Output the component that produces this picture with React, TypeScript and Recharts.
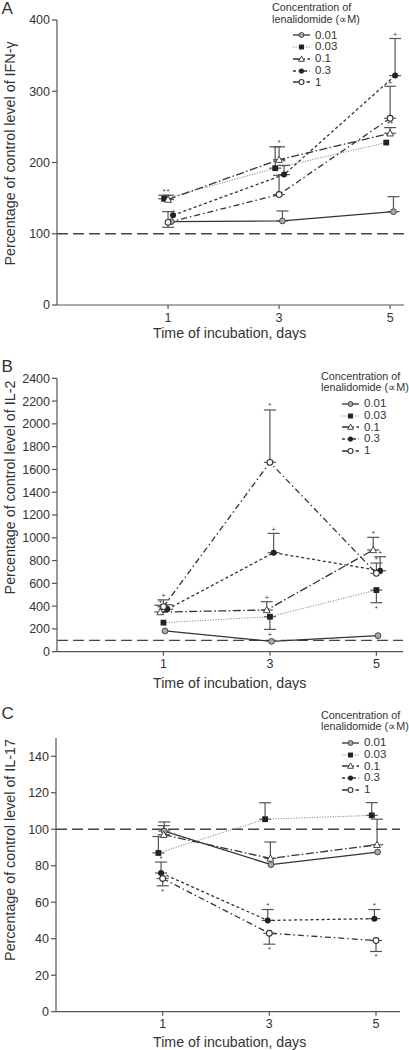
import React from 'react';
import { LineChart, Line, XAxis, YAxis, ReferenceLine, ErrorBar, Legend } from 'recharts';

// ---------- shared ----------
const DAYS = [1, 3, 5];
const X_TICKS = [1, 3, 5];
const CONCENTRATIONS = ['0.01', '0.03', '0.1', '0.3', '1'];

// ---------- Panel A : IFN-γ ----------
const IFN_Y_TICKS = [0, 100, 200, 300, 400];
const IFN_001 = [117, 118, 131];
const IFN_003 = [149, 192, 228];
const IFN_01 = [148, 204, 241];
const IFN_03 = [126, 183, 322];
const IFN_1 = [116, 155, 262];
// [down, up]
const IFN_001_ERR = [[0, 0], [0, 14], [0, 21]];
const IFN_003_ERR = [[0, 5], [0, 30], [0, 0]];
const IFN_01_ERR = [[0, 6], [0, 18], [0, 8]];
const IFN_03_ERR = [[0, 0], [0, 13], [0, 52]];
const IFN_1_ERR = [[7, 15], [0, 27], [0, 45]];
const IFN_001_SIG = ['', '', ''];
const IFN_003_SIG = ['*', '', ''];
const IFN_01_SIG = ['*', '*', '**'];
const IFN_03_SIG = ['+', '*', '+'];
const IFN_1_SIG = ['', '', '+'];

// ---------- Panel B : IL-2 ----------
const IL2_Y_TICKS = [0, 200, 400, 600, 800, 1000, 1200, 1400, 1600, 1800, 2000, 2200, 2400];
const IL2_001 = [182, 91, 141];
const IL2_003 = [255, 307, 541];
const IL2_01 = [348, 366, 893];
const IL2_03 = [372, 869, 711];
const IL2_1 = [395, 1662, 688];
const IL2_001_ERR = [[0, 0], [0, 0], [0, 0]];
const IL2_003_ERR = [[0, 0], [111, 0], [111, 0]];
const IL2_01_ERR = [[0, 60], [0, 73], [0, 111]];
const IL2_03_ERR = [[0, 40], [0, 170], [0, 123]];
const IL2_1_ERR = [[0, 60], [0, 460], [0, 90]];
const IL2_001_SIG = ['', '', ''];
const IL2_003_SIG = ['', '+', '*'];
const IL2_01_SIG = ['+', '+', '*'];
const IL2_03_SIG = ['', '+', '+'];
const IL2_1_SIG = ['+', '*', '*'];

// ---------- Panel C : IL-17 ----------
const IL17_Y_TICKS = [0, 20, 40, 60, 80, 100, 120, 140];
const IL17_001 = [99, 80.6, 87.5];
const IL17_003 = [87, 105.5, 107.6];
const IL17_01 = [97, 84, 91.5];
const IL17_03 = [76, 50, 51];
const IL17_1 = [73, 43, 39];
const IL17_001_ERR = [[0, 5], [0, 0], [0, 0]];
const IL17_003_ERR = [[0, 9], [0, 9], [0, 7]];
const IL17_01_ERR = [[0, 5], [0, 9], [0, 14]];
const IL17_03_ERR = [[0, 6], [0, 6], [0, 5]];
const IL17_1_ERR = [[4, 0], [6, 0], [6, 0]];
const IL17_001_SIG = ['', '', ''];
const IL17_003_SIG = ['', '', ''];
const IL17_01_SIG = ['', '', ''];
const IL17_03_SIG = ['*', '*', '*'];
const IL17_1_SIG = ['*', '*', '*'];

// ---------- styles ----------
const FONT = '"Liberation Sans", Arial, Helvetica, sans-serif';
const TEXT = '#333';
const AXIS = '#555';

type SeriesStyle = { stroke: string; width: number; dash?: string; marker: string };
const STYLES: SeriesStyle[] = [
  { stroke: '#333', width: 1.3, marker: 'circleGray' },
  { stroke: '#888', width: 1, dash: '1.2 1.4', marker: 'square' },
  { stroke: '#333', width: 1.3, dash: '8 2.5 1.5 2.5', marker: 'triangle' },
  { stroke: '#333', width: 1.3, dash: '3 2.5', marker: 'dotBlack' },
  { stroke: '#333', width: 1.3, dash: '6 3 1.5 3', marker: 'circleOpen' },
];

function Marker({ kind, cx, cy, k = 1 }: { kind: string; cx: number; cy: number; k?: number }) {
  if (cx == null || cy == null || isNaN(cx) || isNaN(cy)) return null;
  switch (kind) {
    case 'circleGray':
      return <circle cx={cx} cy={cy} r={2.9 * k} fill="#aaa" stroke="#444" strokeWidth={1} />;
    case 'square':
      return <rect x={cx - 2.9 * k} y={cy - 2.9 * k} width={5.8 * k} height={5.8 * k} fill="#222" />;
    case 'triangle':
      return (
        <path
          d={`M${cx},${cy - 3.6 * k} L${cx + 3.4 * k},${cy + 2.7 * k} L${cx - 3.4 * k},${cy + 2.7 * k} Z`}
          fill="#fff"
          stroke="#444"
          strokeWidth={1}
        />
      );
    case 'dotBlack':
      return <circle cx={cx} cy={cy} r={3.0 * k} fill="#222" />;
    default:
      return <circle cx={cx} cy={cy} r={2.9 * k} fill="#fff" stroke="#333" strokeWidth={1.1} />;
  }
}

type Row = { day: number; v: number; err: number[] | null; sigY: number; sig: string; below: boolean };

function buildRows(values: number[], errs: number[][], sigs: string[], dx: number): Row[] {
  return DAYS.map((d, i) => {
    const [lo, hi] = errs[i];
    const below = lo > 0 && hi === 0;
    return {
      day: d + dx,
      v: values[i],
      err: lo === 0 && hi === 0 ? null : [lo, hi],
      sigY: below ? values[i] - lo : values[i] + hi,
      sig: sigs[i],
      below,
    };
  });
}

const LegendBox = (props: any) => {
  const payload = (props.payload || []).filter((e: any) => e.type !== 'none');
  return (
    <div style={{ fontFamily: FONT, color: TEXT }}>
      <div style={{ fontSize: 10.8, lineHeight: '11.5px', whiteSpace: 'nowrap' }}>
        Concentration of
        <br />
        lenalidomide (∝M)
      </div>
      <div style={{ marginTop: 4.5, marginLeft: 21 }}>
        {payload.map((e: any, i: number) => {
          const idx = CONCENTRATIONS.indexOf(String(e.value));
          const s = STYLES[idx >= 0 ? idx : i];
          return (
            <div key={String(e.value)} style={{ display: 'flex', alignItems: 'center', height: 11.75 }}>
              <svg width={17} height={10} style={{ overflow: 'visible' }}>
                <line x1={0} y1={5} x2={17} y2={5} stroke={s.stroke} strokeWidth={s.width} strokeDasharray={s.dash} />
                <Marker kind={s.marker} cx={8.5} cy={5} k={0.85} />
              </svg>
              <span style={{ marginLeft: 5, fontSize: 11.5, lineHeight: '11.75px' }}>{e.value}</span>
            </div>
          );
        })}
      </div>
    </div>
  );
};

type PanelProps = {
  top: number;
  height: number;
  letter: string;
  letterY: number;
  yLabel: string;
  yLabelY: number;
  xLabelY: number;
  yDomain: [number, number];
  yTicks: number[];
  xDomain: [number, number];
  values: number[][];
  errs: number[][][];
  sigs: string[][];
  dx: number[];
  marginTop: number;
  marginRight: number;
  xAxisHeight: number;
  yAxisWidth: number;
  xTickMargin: number;
  legendLeft: number;
  legendTop: number;
};

function Panel(p: PanelProps) {
  const rows = p.values.map((vals, s) => buildRows(vals, p.errs[s], p.sigs[s], p.dx[s]));
  return (
    <div style={{ position: 'absolute', left: 0, top: p.top, width: 409, height: p.height }}>
      <div
        style={{
          position: 'absolute',
          left: 1.5,
          top: p.letterY - 10,
          fontSize: 17,
          lineHeight: '20px',
          fontFamily: FONT,
          color: TEXT,
        }}
      >
        {p.letter}
      </div>
      <LineChart
        width={409}
        height={p.height}
        margin={{ top: p.marginTop, right: p.marginRight, bottom: 0, left: 0 }}
      >
        <XAxis
          type="number"
          dataKey="day"
          domain={p.xDomain}
          ticks={X_TICKS}
          interval={0}
          allowDataOverflow
          height={p.xAxisHeight}
          tickSize={4}
          tickMargin={p.xTickMargin}
          stroke={AXIS}
          strokeWidth={1.2}
          tick={{ fill: TEXT, fontSize: 12.5, fontFamily: FONT }}
          label={{
            content: () => (
              <text
                x={229.7}
                y={p.xLabelY}
                textAnchor="middle"
                dominantBaseline="central"
                fontSize={14.2}
                fontFamily={FONT}
                fill={TEXT}
              >
                Time of incubation, days
              </text>
            ),
          }}
        />
        <YAxis
          type="number"
          domain={p.yDomain}
          ticks={p.yTicks}
          interval={0}
          allowDataOverflow
          width={p.yAxisWidth}
          tickSize={5}
          tickMargin={2}
          stroke={AXIS}
          strokeWidth={1.2}
          tick={{ fill: TEXT, fontSize: 12.5, fontFamily: FONT }}
          label={{
            content: () => (
              <text
                x={9.5}
                y={p.yLabelY}
                transform={`rotate(-90 9.5 ${p.yLabelY})`}
                textAnchor="middle"
                dominantBaseline="central"
                fontSize={14.3}
                fontFamily={FONT}
                fill={TEXT}
              >
                {p.yLabel}
              </text>
            ),
          }}
        />
        <ReferenceLine y={100} stroke="#444" strokeDasharray="11 5" strokeWidth={1.3} />
        {STYLES.map((s, i) => (
          <Line
            key={'s' + i}
            data={rows[i]}
            dataKey="v"
            name={CONCENTRATIONS[i]}
            type="linear"
            stroke={s.stroke}
            strokeWidth={s.width}
            strokeDasharray={s.dash}
            isAnimationActive={false}
            activeDot={false}
            dot={(d: any) => <Marker key={'m' + i + '-' + d.index} kind={s.marker} cx={d.cx} cy={d.cy} />}
          >
            <ErrorBar
              dataKey="err"
              direction="y"
              width={6}
              stroke="#555"
              strokeWidth={1.2}
              isAnimationActive={false}
            />
          </Line>
        ))}
        {STYLES.map((s, i) => (
          <Line
            key={'g' + i}
            data={rows[i]}
            dataKey="sigY"
            name={'sig' + i}
            stroke="none"
            legendType="none"
            isAnimationActive={false}
            activeDot={false}
            dot={(d: any) => {
              const r = rows[i][d.index];
              if (!r || !r.sig || d.cx == null || d.cy == null) return <g key={'t' + i + '-' + d.index} />;
              return (
                <text
                  key={'t' + i + '-' + d.index}
                  x={d.cx}
                  y={r.below ? d.cy + 8 : d.cy - 1.5}
                  textAnchor="middle"
                  fontSize={8}
                  fontFamily={FONT}
                  fill="#444"
                >
                  {r.sig}
                </text>
              );
            }}
          />
        ))}
        <Legend
          layout="vertical"
          align="center"
          verticalAlign="middle"
          content={LegendBox}
          wrapperStyle={{ left: p.legendLeft, top: p.legendTop, width: 130 }}
        />
      </LineChart>
    </div>
  );
}

export default function App() {
  return (
    <div style={{ position: 'absolute', left: 0, top: 0, width: 409, height: 1050, background: '#fff' }}>
      <Panel
        top={0}
        height={340}
        letter="A"
        letterY={9}
        yLabel="Percentage of control level of IFN-γ"
        yLabelY={153.5}
        xLabelY={333}
        yDomain={[0, 400]}
        yTicks={IFN_Y_TICKS}
        xDomain={[-1, 5.25]}
        values={[IFN_001, IFN_003, IFN_01, IFN_03, IFN_1]}
        errs={[IFN_001_ERR, IFN_003_ERR, IFN_01_ERR, IFN_03_ERR, IFN_1_ERR]}
        sigs={[IFN_001_SIG, IFN_003_SIG, IFN_01_SIG, IFN_03_SIG, IFN_1_SIG]}
        dx={[0.06, -0.07, 0, 0.09, 0]}
        marginTop={20}
        marginRight={5}
        xAxisHeight={35}
        yAxisWidth={57}
        xTickMargin={4.5}
        legendLeft={272}
        legendTop={2}
      />
      <Panel
        top={340}
        height={350}
        letter="B"
        letterY={26.7}
        yLabel="Percentage of control level of IL-2"
        yLabelY={147.5}
        xLabelY={343}
        yDomain={[0, 2400]}
        yTicks={IL2_Y_TICKS}
        xDomain={[-1, 5.5]}
        values={[IL2_001, IL2_003, IL2_01, IL2_03, IL2_1]}
        errs={[IL2_001_ERR, IL2_003_ERR, IL2_01_ERR, IL2_03_ERR, IL2_1_ERR]}
        sigs={[IL2_001_SIG, IL2_003_SIG, IL2_01_SIG, IL2_03_SIG, IL2_1_SIG]}
        dx={[0.03, 0, -0.06, 0.07, 0]}
        marginTop={38.3}
        marginRight={6}
        xAxisHeight={38.3}
        yAxisWidth={57}
        xTickMargin={3}
        legendLeft={321}
        legendTop={30.5}
      />
      <Panel
        top={690}
        height={360}
        letter="C"
        letterY={24}
        yLabel="Percentage of control level of IL-17"
        yLabelY={160}
        xLabelY={351.7}
        yDomain={[0, 150]}
        yTicks={IL17_Y_TICKS}
        xDomain={[-1, 5.45]}
        values={[IL17_001, IL17_003, IL17_01, IL17_03, IL17_1]}
        errs={[IL17_001_ERR, IL17_003_ERR, IL17_01_ERR, IL17_03_ERR, IL17_1_ERR]}
        sigs={[IL17_001_SIG, IL17_003_SIG, IL17_01_SIG, IL17_03_SIG, IL17_1_SIG]}
        dx={[0.03, -0.08, 0.02, -0.03, 0]}
        marginTop={48}
        marginRight={9}
        xAxisHeight={38.3}
        yAxisWidth={56}
        xTickMargin={3}
        legendLeft={321}
        legendTop={19.5}
      />
    </div>
  );
}
